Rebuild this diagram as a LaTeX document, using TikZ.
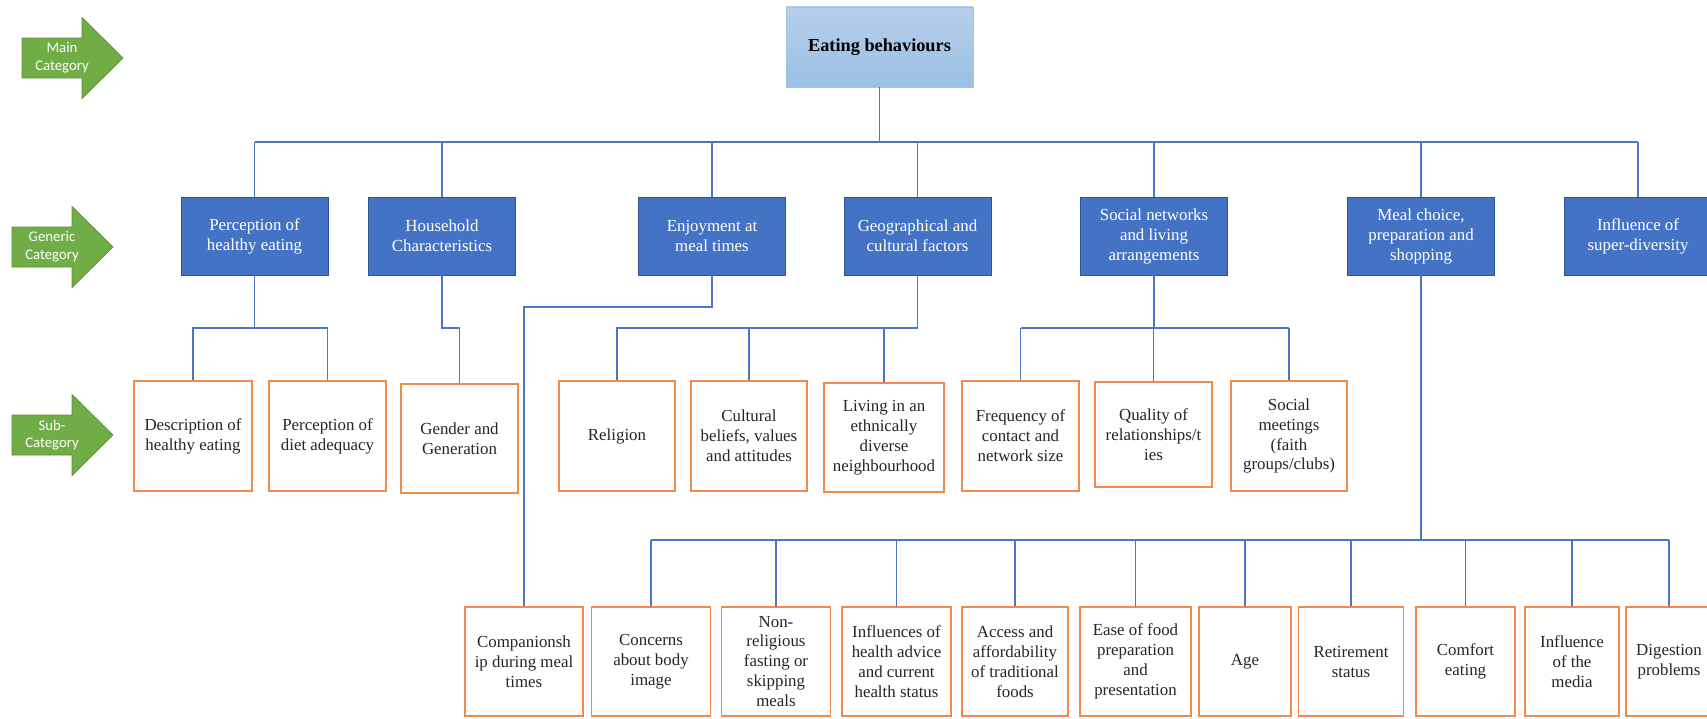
\documentclass[tikz,border=0pt]{standalone}
\usepackage{fontspec}
\setmainfont{Liberation Serif}
\newfontfamily\calibfont{Carlito}

\definecolor{genblue}{HTML}{4472C4}
\definecolor{genedge}{HTML}{2F528F}
\definecolor{subedge}{HTML}{F08A4B}
\definecolor{linkblue}{HTML}{4A76C6}
\definecolor{catgreen}{HTML}{70AD47}
\definecolor{catedge}{HTML}{5A8F38}
\definecolor{toptop}{HTML}{B6CFEA}
\definecolor{topbot}{HTML}{9BBFE5}

\begin{document}
\begin{tikzpicture}[x=0.025cm, y=-0.025cm,
  genbox/.style={draw=genedge, line width=0.6pt, fill=genblue, text=white, align=center,
    minimum width=3.675cm, minimum height=1.95cm, inner sep=2pt, font=\fontsize{12}{14.2}\selectfont},
  subbox/.style={draw=subedge, line width=0.9pt, fill=white, text=black!85, align=center,
    minimum height=2.75cm, inner sep=2pt, font=\fontsize{12}{14.2}\selectfont},
  link/.style={draw=linkblue, line width=0.9pt},
  catarrow/.style={fill=catgreen, draw=catedge, line width=0.5pt},
  catlabel/.style={text=white, align=center, font=\calibfont\fontsize{10.5}{12.6}\selectfont}]

\useasboundingbox[fill=white] (0,0) rectangle (1707,718);

% category arrows on the left
\foreach \n/\x/\y/\txt in {mainarr/22/58/{Main\\Category}, genarr/12/247/{Generic\\Category}, subarr/12/435/{Sub-\\Category}}
{
\filldraw[catarrow] (\x,\y-20) -- (\x+60,\y-20) -- (\x+60,\y-40.5) -- (\x+101,\y)
  -- (\x+60,\y+40.5) -- (\x+60,\y+20) -- (\x,\y+20) -- cycle;
\node[catlabel] (\n) at (\x+40,\y) {\txt};
}

% main category
\node[draw=topbot!90!white, top color=toptop, bottom color=topbot, minimum width=4.675cm,
  minimum height=2cm, font=\bfseries\fontsize{13}{15}\selectfont] (eat) at (879.5,47) {Eating behaviours};

% generic categories
\node[genbox] (perc) at (254.5,236) {Perception of\\healthy eating};
\node[genbox] (house) at (442,236) {Household\\Characteristics};
\node[genbox] (enjoy) at (712,236) {Enjoyment at\\meal times};
\node[genbox] (geo) at (917.5,236) {Geographical and\\cultural factors};
\node[genbox] (social) at (1154,236) {Social networks\\and living\\arrangements};
\node[genbox] (meal) at (1421,236) {Meal choice,\\preparation and\\shopping};
\node[genbox, minimum width=3.7cm] (superdiv) at (1638,236) {Influence of\\super-diversity};

% sub categories, upper row
\node[subbox, minimum width=2.95cm] (desc) at (193,436) {Description of\\healthy eating};
\node[subbox, minimum width=2.925cm] (diet) at (327.5,436) {Perception of\\diet adequacy};
\node[subbox, minimum width=2.925cm, minimum height=2.725cm] (gender) at (459.5,438.5) {Gender and\\Generation};
\node[subbox, minimum width=2.9cm] (relig) at (617,436) {Religion};
\node[subbox, minimum width=2.9cm] (cult) at (749,436) {Cultural\\beliefs, values\\and attitudes};
\node[subbox, minimum width=3cm, minimum height=2.725cm] (living) at (884,437.5) {Living in an\\ethnically\\diverse\\neighbourhood};
\node[subbox, minimum width=2.925cm] (freq) at (1020.5,436) {Frequency of\\contact and\\network size};
\node[subbox, minimum width=2.925cm, minimum height=2.625cm] (qual) at (1153.5,434.5) {Quality of\\relationships/t\\ies};
\node[subbox, minimum width=2.9cm] (meet) at (1289,436) {Social\\meetings\\(faith\\groups/clubs)};

% sub categories, lower row
\node[subbox, minimum width=2.95cm, minimum height=2.725cm] (comp) at (524,661.5) {Companionsh\\ip during meal\\times};
\node[subbox, minimum width=2.96cm, minimum height=2.725cm] (conc) at (651,661.5) {Concerns\\about body\\image};
\node[subbox, minimum width=2.74cm, minimum height=2.725cm] (nonrel) at (776,661.5) {Non-\\religious\\fasting or\\skipping\\meals};
\node[subbox, minimum width=2.725cm, minimum height=2.725cm] (advice) at (896.5,661.5) {Influences of\\health advice\\and current\\health status};
\node[subbox, minimum width=2.65cm, minimum height=2.725cm] (access) at (1015,661.5) {Access and\\affordability\\of traditional\\foods};
\node[subbox, minimum width=2.775cm, minimum height=2.725cm] (ease) at (1135.5,661.5) {Ease of food\\preparation\\and\\presentation};
\node[subbox, minimum width=2.3cm, minimum height=2.725cm] (age) at (1245,661.5) {Age};
\node[subbox, minimum width=2.61cm, minimum height=2.725cm] (retire) at (1351,661.5) {Retirement\\status};
\node[subbox, minimum width=2.475cm, minimum height=2.725cm] (comfort) at (1465.5,661.5) {Comfort\\eating};
\node[subbox, minimum width=2.35cm, minimum height=2.725cm] (media) at (1572,661.5) {Influence\\of the\\media};
\node[subbox, minimum width=2.15cm, minimum height=2.725cm] (digest) at (1669,661.5) {Digestion\\problems};

% levels of the connector lines
\coordinate (lvlA) at (0,142);
\coordinate (lvlE) at (0,307);
\coordinate (lvlB) at (0,328);
\coordinate (lvlC) at (0,540);

\draw[link] (eat.south) -- (eat.south |- lvlA);
\draw[link] (perc.north |- lvlA) -- (superdiv.north |- lvlA);
\foreach \g in {perc,house,enjoy,geo,social,meal,superdiv}
\draw[link] (\g.north) -- (\g.north |- lvlA);

\draw[link] (perc.south) -- (perc.south |- lvlB);
\draw[link] (desc.north) |- (perc.south |- lvlB) -| (diet.north);
\draw[link] (house.south) -- (house.south |- lvlB) -| (gender.north);
\draw[link] (enjoy.south) -- (enjoy.south |- lvlE) -| (comp.north);

\draw[link] (geo.south) -- (geo.south |- lvlB) -| (relig.north);
\foreach \s in {cult,living}
\draw[link] (\s.north) -- (\s.north |- lvlB);

\draw[link] (social.south) -- (social.south |- lvlB);
\draw[link] (freq.north |- lvlB) -- (meet.north |- lvlB);
\foreach \s in {freq,qual,meet}
\draw[link] (\s.north) -- (\s.north |- lvlB);

\draw[link] (meal.south) -- (meal.south |- lvlC);
\draw[link] (conc.north |- lvlC) -- (digest.north |- lvlC);
\foreach \s in {conc,nonrel,advice,access,ease,age,retire,comfort,media,digest}
\draw[link] (\s.north) -- (\s.north |- lvlC);

\end{tikzpicture}
\end{document}
